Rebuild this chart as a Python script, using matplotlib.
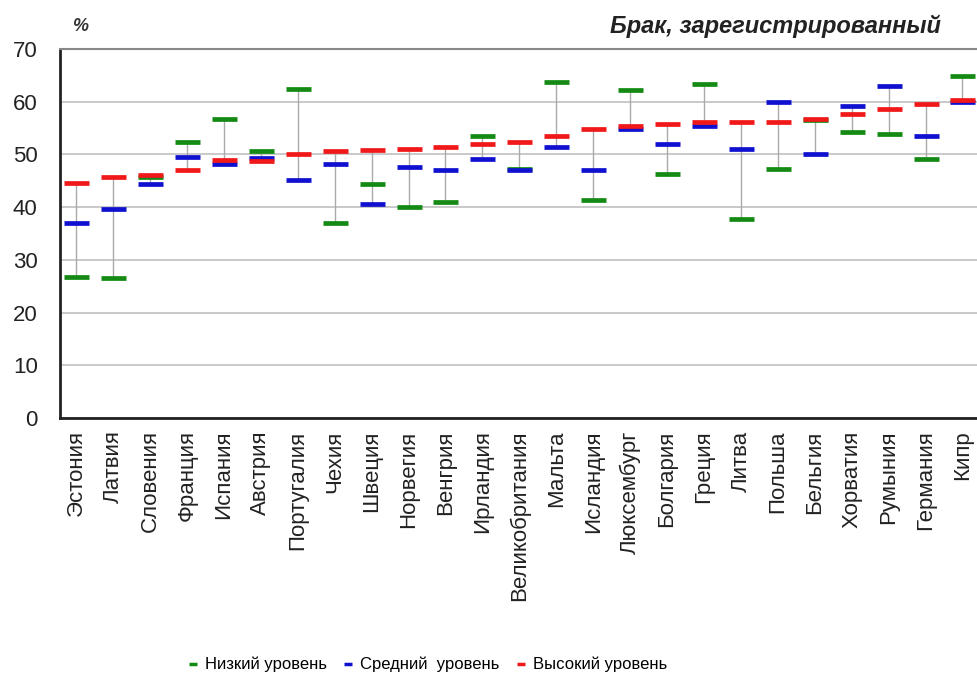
import matplotlib.pyplot as plt
from matplotlib.lines import Line2D

plt.rcParams['font.family'] = ['Liberation Sans', 'DejaVu Sans']

# Страны и значения (%)
countries = ['Эстония', 'Латвия', 'Словения', 'Франция', 'Испания', 'Австрия',
             'Португалия', 'Чехия', 'Швеция', 'Норвегия', 'Венгрия', 'Ирландия',
             'Великобритания', 'Мальта', 'Исландия', 'Люксембург', 'Болгария',
             'Греция', 'Литва', 'Польша', 'Бельгия', 'Хорватия', 'Румыния',
             'Германия', 'Кипр']
low = [26.8, 26.5, 45.7, 52.3, 56.8, 50.7, 62.5, 37.0, 44.3, 40.1, 40.9, 53.4,
       47.3, 63.7, 41.3, 62.2, 46.2, 63.3, 37.8, 47.3, 56.5, 54.2, 53.8, 49.2, 64.8]
mid = [37.0, 39.7, 44.3, 49.6, 48.2, 49.4, 45.1, 48.1, 40.5, 47.7, 47.0, 49.2,
       47.0, 51.5, 47.0, 54.9, 51.9, 55.3, 51.1, 59.9, 50.0, 59.1, 62.9, 53.4, 59.9]
high = [44.6, 45.8, 46.1, 47.0, 48.9, 48.8, 50.0, 50.7, 50.8, 51.1, 51.5, 51.9,
        52.3, 53.4, 54.9, 55.3, 55.7, 56.1, 56.1, 56.1, 56.8, 57.6, 58.7, 59.5, 60.3]

green = '#148a14'
blue = '#1010d0'
red = '#f01818'

fig = plt.figure(figsize=(9.78, 6.86), dpi=100)
ax = fig.add_axes([0.0613, 0.3907, 0.9387, 0.5379])

x = list(range(len(countries)))
lo = [min(a, b, c) for a, b, c in zip(low, mid, high)]
hi = [max(a, b, c) for a, b, c in zip(low, mid, high)]
ax.vlines(x, lo, hi, color='#aaaaaa', linewidth=1, zorder=2)

ms = 18
mew = 3.4
ax.plot(x, low, linestyle='none', marker='_', markersize=ms, markeredgewidth=mew,
        color=green, zorder=3)
ax.plot(x, mid, linestyle='none', marker='_', markersize=ms, markeredgewidth=mew,
        color=blue, zorder=4)
ax.plot(x, high, linestyle='none', marker='_', markersize=ms, markeredgewidth=mew,
        color=red, zorder=5)

ax.set_ylim(0, 70)
ax.set_xlim(-0.44, 24.42)
ax.set_yticks(range(0, 71, 10))
ax.yaxis.grid(True, color='#c0c0c0', linewidth=1.2)
ax.set_axisbelow(True)
ax.tick_params(axis='y', length=0, pad=16, labelsize=16, labelcolor='#222222')
ax.tick_params(axis='x', length=0, pad=9, labelsize=16, labelcolor='#222222')
ax.set_xticks(x)
ax.set_xticklabels(countries, rotation=90, va='top')

for s in ['left', 'bottom']:
    ax.spines[s].set_color('#222222')
    ax.spines[s].set_linewidth(2)
ax.spines['top'].set_color('#888888')
ax.spines['top'].set_linewidth(1.5)
ax.spines['right'].set_visible(False)

fig.text(0.074, 0.962, '%', fontsize=13, fontweight='bold', fontstyle='italic',
         color='#333333', ha='left', va='center')
fig.text(0.962, 0.962, 'Брак, зарегистрированный', fontsize=17, fontweight='bold',
         fontstyle='italic', color='#222222', ha='right', va='center')

handles = [Line2D([], [], linestyle='none', marker='_', markersize=6, markeredgewidth=2.5, color=c)
           for c in (green, blue, red)]
fig.legend(handles, ['Низкий уровень', 'Средний  уровень', 'Высокий уровень'],
           loc='center', bbox_to_anchor=(0.437, 0.031), ncol=3, frameon=False,
           fontsize=12, handlelength=0.6, handletextpad=0.4, columnspacing=1.0)

fig.savefig('out.png', dpi=100)
